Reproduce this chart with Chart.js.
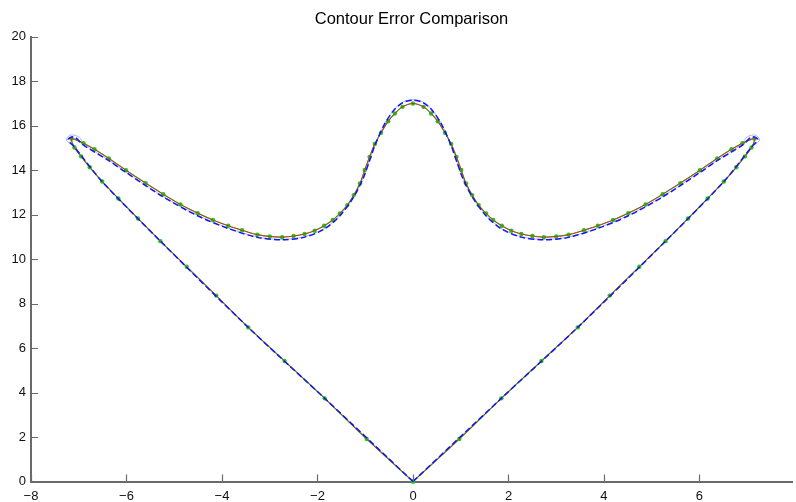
<!DOCTYPE html>
<html>
<head>
<meta charset="utf-8">
<script src="https://cdn.jsdelivr.net/npm/chart.js@4.4.1/dist/chart.umd.min.js"></script>
<style>
  html, body { margin: 0; padding: 0; background: #ffffff; }
  #wrap { width: 796px; height: 502px; }
</style>
</head>
<body>
<div id="wrap"><canvas id="c" width="796" height="502"></canvas></div>
<script>
// ---- Data ----
const chartTitle = "Contour Error Comparison";
const xTickValues = [-8, -6, -4, -2, 0, 2, 4, 6];
const yTickValues = [0, 2, 4, 6, 8, 10, 12, 14, 16, 18, 20];

// Green (with markers) contour; red reference contour follows the same points
const greenX = [0, -0.97, -1.85, -2.69, -3.45, -4.12, -4.74, -5.29, -5.76, -6.17, -6.51, -6.77, -6.95, -7.09, -7.15,
  -6.90, -6.67, -6.37, -6.01, -5.60, -5.23, -4.87, -4.51, -4.19, -3.87, -3.58, -3.26, -3.00, -2.74, -2.50, -2.27, -2.06,
  -1.86, -1.68, -1.53, -1.375, -1.24, -1.11, -1.01, -0.91, -0.80, -0.67, -0.52, -0.38, -0.22, 0,
  0.22, 0.38, 0.52, 0.67, 0.80, 0.91, 1.01, 1.11, 1.24, 1.375, 1.53, 1.68, 1.86, 2.06, 2.27, 2.50, 2.74, 3.00, 3.26,
  3.58, 3.87, 4.19, 4.51, 4.87, 5.23, 5.60, 6.01, 6.37, 6.67, 6.90, 7.15,
  7.09, 6.95, 6.77, 6.51, 6.17, 5.76, 5.29, 4.74, 4.12, 3.45, 2.69, 1.85, 0.97, 0];
const greenY = [0, 1.91, 3.74, 5.42, 6.93, 8.36, 9.66, 10.81, 11.83, 12.73, 13.49, 14.13, 14.62, 15.02, 15.42,
  15.21, 14.94, 14.53, 14.00, 13.42, 12.92, 12.46, 12.07, 11.76, 11.50, 11.30, 11.10, 11.02, 10.99, 11.04, 11.13, 11.28,
  11.50, 11.76, 12.06, 12.43, 12.88, 13.41, 14.01, 14.60, 15.18, 15.68, 16.20, 16.55, 16.85, 17.00,
  16.85, 16.55, 16.20, 15.68, 15.18, 14.60, 14.01, 13.41, 12.88, 12.43, 12.06, 11.76, 11.50, 11.28, 11.13, 11.04, 10.99, 11.02, 11.10,
  11.30, 11.50, 11.76, 12.07, 12.46, 12.92, 13.42, 14.00, 14.53, 14.94, 15.21, 15.42,
  15.02, 14.62, 14.13, 13.49, 12.73, 11.83, 10.81, 9.66, 8.36, 6.93, 5.42, 3.74, 1.91, 0];
const redX = greenX;
const redY = greenY;

// Blue dashed contour
const blueX = [0, -1.85, -3.45, -5.29, -6.51, -7.08, -7.22, -7.10, -6.90, -6.37, -6.01, -5.23, -4.51, -3.87, -3.26, -2.74,
  -2.27, -1.86, -1.53, -1.24, -1.05, -0.93, -0.80, -0.60, -0.40, -0.20, 0, 0.20, 0.40, 0.60, 0.80, 0.93, 1.05, 1.24,
  1.53, 1.86, 2.27, 2.74, 3.26, 3.87, 4.51, 5.23, 6.01, 6.37, 6.90, 7.10, 7.22, 7.08, 6.51, 5.29, 3.45, 1.85, 0];
const blueY = [0, 3.74, 6.93, 10.81, 13.49, 15.02, 15.38, 15.50, 15.13, 14.43, 13.90, 12.80, 11.95, 11.38, 10.98, 10.87,
  10.99, 11.35, 11.95, 12.80, 13.60, 14.30, 15.10, 16.05, 16.70, 17.05, 17.15, 17.05, 16.70, 16.05, 15.10, 14.30, 13.60, 12.80,
  11.95, 11.35, 10.99, 10.87, 10.98, 11.38, 11.95, 12.80, 13.90, 14.43, 15.13, 15.50, 15.38, 15.02, 13.49, 10.81, 6.93, 3.74, 0];

// Light blue thin contour
const lightX = [0, -1.85, -3.45, -5.29, -6.51, -7.08, -7.26, -7.17, -7.00, -6.88, -6.37, -6.01, -5.23, -4.51, -3.87, -3.26, -2.74,
  -2.27, -1.86, -1.53, -1.24, -1.05, -0.93, -0.80, -0.60, -0.40, -0.20, 0, 0.20, 0.40, 0.60, 0.80, 0.93, 1.05, 1.24,
  1.53, 1.86, 2.27, 2.74, 3.26, 3.87, 4.51, 5.23, 6.01, 6.37, 6.88, 7.00, 7.17, 7.26, 7.08, 6.51, 5.29, 3.45, 1.85, 0];
const lightY = [0, 3.74, 6.93, 10.81, 13.49, 15.02, 15.36, 15.58, 15.50, 15.16, 14.45, 13.92, 12.82, 11.97, 11.40, 11.00, 10.89,
  11.01, 11.37, 11.97, 12.82, 13.62, 14.32, 15.12, 16.07, 16.72, 17.08, 17.17, 17.08, 16.72, 16.07, 15.12, 14.32, 13.62, 12.82,
  11.97, 11.37, 11.01, 10.89, 11.00, 11.40, 11.97, 12.82, 13.92, 14.45, 15.16, 15.50, 15.58, 15.36, 15.02, 13.49, 10.81, 6.93, 3.74, 0];

// ---- Build chart ----
const zip = (xs, ys) => xs.map((x, i) => ({ x: x, y: ys[i] }));
const AXIS_COLOR = '#6a6a6a';
const FONT = "'Liberation Sans', Arial, Helvetica, sans-serif";

const inwardTicks = {
  id: 'inwardTicks',
  afterDatasetsDraw(chart) {
    const ctx = chart.ctx;
    const xs = chart.scales.x, ys = chart.scales.y;
    const a = chart.chartArea;
    ctx.save();
    ctx.strokeStyle = AXIS_COLOR;
    ctx.lineWidth = 1.2;
    ctx.beginPath();
    xTickValues.forEach(v => {
      const px = Math.round(xs.getPixelForValue(v)) + 0.5;
      ctx.moveTo(px, a.bottom);
      ctx.lineTo(px, a.bottom - 7);
    });
    yTickValues.forEach(v => {
      const py = Math.round(ys.getPixelForValue(v)) + 0.5;
      ctx.moveTo(a.left, py);
      ctx.lineTo(a.left + 7, py);
    });
    ctx.stroke();
    ctx.restore();
  }
};

const fmt = v => (v < 0 ? '\u2212' + Math.abs(v) : String(v));

new Chart(document.getElementById('c'), {
  type: 'scatter',
  data: {
    datasets: [
      {
        label: 'light', data: zip(lightX, lightY), showLine: true, tension: 0.3,
        borderColor: 'rgba(150,150,255,0.75)', borderWidth: 1, pointRadius: 0, order: 5, clip: false
      },
      {
        label: 'green', data: zip(greenX, greenY), showLine: true, tension: 0.3,
        borderColor: 'rgb(30,200,30)', borderWidth: 1.2, pointRadius: 2.2, pointBackgroundColor: 'rgb(30,200,30)',
        pointBorderColor: 'rgb(30,200,30)', pointBorderWidth: 0, order: 4, clip: false
      },
      {
        label: 'red', data: zip(redX, redY), showLine: true, tension: 0.3,
        borderColor: 'rgb(240,20,20)', borderWidth: 0.8, pointRadius: 0, order: 3, clip: false
      },
      {
        label: 'blue', data: zip(blueX, blueY), showLine: true, tension: 0.3,
        borderColor: 'rgb(20,20,245)', borderWidth: 1.5, borderDash: [6, 3], pointRadius: 0, order: 2, clip: false
      }
    ]
  },
  options: {
    responsive: false,
    animation: false,
    devicePixelRatio: 1,
    layout: { padding: 0 },
    plugins: {
      legend: { display: false },
      tooltip: { enabled: false },
      title: {
        display: true, text: chartTitle, color: '#000', fullSize: false,
        font: { family: FONT, size: 16.5, weight: 'normal' },
        padding: { top: 10, bottom: 7 }
      }
    },
    scales: {
      x: {
        type: 'linear', min: -8, max: 7.9375,
        afterBuildTicks: s => { s.ticks = xTickValues.map(v => ({ value: v })); },
        afterFit: s => { s.height = 20.5; s.paddingLeft = 0; s.paddingRight = 0; },
        grid: { display: false, drawTicks: false },
        border: { display: true, color: AXIS_COLOR, width: 2 },
        ticks: { color: '#111', padding: 7, maxRotation: 0, autoSkip: false,
          font: { family: FONT, size: 13 }, callback: v => fmt(v) }
      },
      y: {
        type: 'linear', min: 0, max: 20,
        afterBuildTicks: s => { s.ticks = yTickValues.map(v => ({ value: v })); },
        afterFit: s => { s.width = 31; s.paddingTop = 0; s.paddingBottom = 0; },
        grid: { display: false, drawTicks: false },
        border: { display: true, color: AXIS_COLOR, width: 2 },
        ticks: { color: '#111', padding: 5, font: { family: FONT, size: 13 }, callback: v => fmt(v) }
      }
    }
  },
  plugins: [inwardTicks]
});
</script>
</body>
</html>
